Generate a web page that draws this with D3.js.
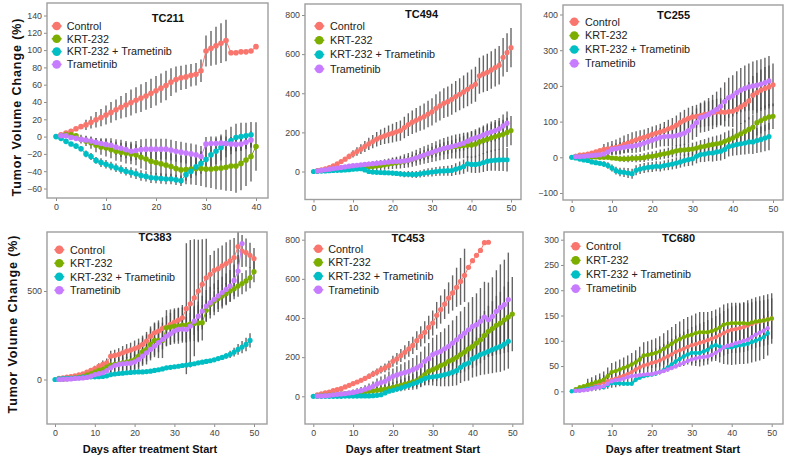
<!DOCTYPE html>
<html><head><meta charset="utf-8">
<script src="https://cdn.jsdelivr.net/npm/d3@7"></script>
<style>
body{margin:0;background:#fff}
svg{display:block}
text{font-family:"Liberation Sans",Arial,Helvetica,sans-serif}
</style>
</head><body>
<svg id="chart" width="788" height="460"></svg>
<script>
// ---------- series ----------
const seriesNames = ["Control", "KRT-232", "KRT-232 + Trametinib", "Trametinib"];
const seriesColors = ["#F8766D", "#7CAE00", "#00BFC4", "#C77CFF"];

// ---------- TC211 (value per day, index = day) ----------
const tc211Control = [null,2,4,6,9,11.5,13.5,16.5,19.5,22,25,28,31,34,36.5,39.5,42,44.5,47,50,53,56,59,63,66,68,69,71,72,76,99,102,105,108,111,97,97,98,98,99,104];
const tc211Krt = [null,1,2,2,1,-3,-5,-7,-10,-12,-13,-15,-17,-18,-19,-20,-21,-24,-26,-28.5,-30,-31.5,-33,-34.5,-37,-38.5,-38,-37.5,-37,-37,-37.5,-37.5,-37,-36.5,-35.5,-34,-34,-31,-27,-23,-11.5];
const tc211Combo = [0,-2,-5.5,-8.5,-11,-14,-20,-23,-27.5,-30,-32,-34,-36,-38,-40,-41.5,-43,-45,-46,-47.5,-48,-48.5,-49,-49,-50,-51,-44,-40,-35,-31,-26.5,-21,-17,-12.5,-8,-4.5,-1,0,1,2];
const tc211Tram = [null,1,1,-1,-2,-3,-4,-5,-6.5,-8,-9,-10,-12,-13.5,-15,-17,-16,-15,-14.5,-14.5,-14.5,-14.5,-14.5,-15.5,-17,-18,-19,-20,-21,-23,-8.5,-8,-8,-7.5,-8,-8.5,-9,-8.5,-6.5,-4];
const tc211ControlErr = [0,0,0,0,0,0,6,7,9,10,11,12,12,13,14,15,15,16,16,17,17,17,17,16,15,14,14,13,13,13,18,20,22,23,24,0,0,0,0,0,0];
const tc211KrtErr = [0,0,0,0,0,5,6,7,8,9,10,10,11,11,12,12,12,13,13,14,14,14,15,15,16,16,17,18,19,20,21,22,24,25,27,29,31,31,30,29,28];
const tc211ComboErr = [0,0,0,0,3,3,4,4,4,5,5,5,5,5,5,6,6,6,6,6,6,6,6,6,6,6,7,8,10,12,14,14,15,15,16,16,16,16,15,15];
const tc211TramErr = [0,0,0,0,0,3,4,4,5,6,7,8,9,10,10,11,11,12,12,12,12,12,12,12,12,12,12,12,12,12,8,8,8,8,8,8,8,8,8,8];

// ---------- TC494 ----------
const tc494Control = [null,5,8,14,20,29,39,51,63,77,90,102,114,128,141,153,165,175,182,190,196,203,209,225,240,252,262,272,281,294,305,323,335,349,357,369,383,395,407,420,434,446,489,499,507,519,531,543,584,608,633];
const tc494Krt = [null,2,5,6,7,8,10,11,13,15,17,18,20,22,24,25,28,31,34,38,42,45,48,53,58,63,70,77,84,90,97,104,111,116,121,125,128,130,133,135,136,140,151,158,165,172,179,185,190,200,209];
const tc494Combo = [0,1,2,3,4,5,6,7,8,9,12,13,14,8,0,-3,-4,-5,-6,-7,-8,-10,-12,-14,-14,-15,-15,-12,-8,-5,-3,0,2,3,4,5,12,18,25,39,36,36,39,46,53,56,58,59,60,60];
const tc494Tram = [null,3,6,9,12,15,18,21,24,27,30,32,34,36,38,40,42,44,46,48,50,51,52,54,58,63,70,77,84,91,98,105,112,118,123,127,133,139,145,155,165,172,179,187,196,203,209,218,233,247];
const tc494ControlErr = [0,0,0,0,0,0,0,0,10,14,18,22,25,28,31,34,37,40,42,45,48,50,52,55,58,60,62,64,66,68,70,72,74,76,77,79,80,82,84,86,88,90,92,94,95,96,97,98,98,99,100];
const tc494KrtErr = [0,0,0,0,0,0,0,0,0,0,0,0,0,15,17,19,21,23,25,27,29,31,33,35,37,39,41,43,45,47,49,51,53,55,57,59,61,63,65,66,67,68,69,70,71,72,73,74,74,75,75];
const tc494ComboErr = [0,0,0,0,0,0,0,0,0,0,0,0,0,0,0,0,0,0,0,0,12,13,14,15,16,17,18,19,20,21,22,23,24,25,26,28,30,33,36,40,42,44,46,48,50,52,54,56,58,60];
const tc494TramErr = [0,0,0,0,0,0,0,0,0,0,8,9,10,11,12,13,14,15,16,17,18,19,20,21,22,23,24,25,26,27,28,29,30,31,32,33,34,36,38,40,42,44,46,48,50,52,54,56,58,60];

// ---------- TC255 ----------
const tc255Control = [null,3,6,7,9,12,15,19,22,24,26,28,31,36,40,45,49,53,56,60,64,68,71,75,80,84,90,98,104,109,113,115,117,120,122,125,127,127,126,128,129,134,141,148,158,174,181,188,193,197,203];
const tc255Krt = [null,3,2,3,2,1,1,0,0,0,-2,-3,-4,-4,-4,-3,-3,-2,-1,2,3,5,7.5,10,12,15,18,20,21,22,23,26,29,31,34,36,38,40,45,49,54,60,66,72,78,84,97,103,109,113,115];
const tc255Combo = [0,-2,-5,-7.5,-9,-13,-15,-17,-19,-23,-30,-37.5,-41,-42,-44,-46,-36.5,-33,-30,-28,-27,-25,-26,-23,-21,-19,-16,-13,-9,-6.5,-4,3,7.5,9,12,12,15,17,22,30,33,36,38,40,43,43,47,50,54,58];
const tc255Tram = [null,2,2,3,4,5,6,7,9,15,22,24,26,28,30,31,33,36,40,44,48,52,56,58,59,59,61,64,68,75,87,97,111,115,120,127,134,143,156,167,172,181,188,193,197,200,202,205,209,214];
const tc255ControlErr = [0,0,0,0,0,0,0,0,15,18,20,22,24,25,25,25,24,23,22,22,22,22,23,24,25,26,27,28,29,30,31,32,33,34,35,36,37,38,40,42,44,46,48,50,52,54,56,58,60,60,60];
const tc255KrtErr = [0,0,0,0,0,0,0,0,0,0,0,0,8,9,10,10,11,11,12,12,13,13,14,14,15,15,16,16,17,17,18,18,19,20,21,22,23,24,25,26,27,28,30,32,34,35,36,36,36,36,36];
const tc255ComboErr = [0,0,0,0,0,0,0,0,8,9,10,11,12,13,14,14,14,14,14,14,14,14,14,14,15,15,16,16,17,18,19,20,21,22,23,24,25,26,27,28,29,30,31,32,33,34,35,36,37,38];
const tc255TramErr = [0,0,0,0,0,0,0,0,10,12,14,15,16,17,18,19,20,21,22,23,24,25,26,27,28,29,30,32,34,36,38,40,42,44,46,48,50,52,54,56,58,60,62,64,66,68,70,70,70,70];

// ---------- TC383 ----------
const tc383Control = [null,6,9,13,17,21,26,32,42,51,62,74,85,94,132,136,142,151,160,166,175,183,198,217,245,264,274,289,296,311,325,336,349,400,428,462,500,538,575,594,617,626,642,655,670,689,751,726,717,702,683];
const tc383Krt = [null,0,2,4,6,9,12,15,25,32,42,51,58,70,81,85,89,94,98,104,113,132,157,170,198,221,221,221,292,296,302,302,308,308,315,317,319,321,391,425,443,458,472,485,500,513,528,542,557,575,609];
const tc383Combo = [0,3,5,6,7,8,10,13,14,15,15,16,17,21,28,31,34,36,38,40,42,43,43,45,47,51,55,60,66,69,72,75,79,82,85,89,94,98,102,106,111,118,125,133,142,155,170,183,198,221];
const tc383Tram = [null,0,1,2,3,6,7,9,12,19,28,33,38,50,66,79,85,89,91,92,100,113,132,151,170,189,208,226,245,258,274,283,285,283,302,330,358,387,415,434,453,472,491,509,528,560,613,768];
const tc383ControlErr = [0,0,0,0,0,0,0,0,0,0,15,18,22,25,30,32,35,38,40,42,45,48,50,52,55,58,60,62,64,66,68,70,72,370,360,330,290,255,220,110,110,115,115,120,120,110,100,90,80,70,60];
const tc383KrtErr = [0,0,0,0,0,0,0,0,0,0,0,0,0,0,40,45,50,55,60,65,70,75,80,85,90,95,100,100,100,100,100,100,100,100,100,100,100,100,60,60,60,60,60,60,60,60,60,60,60,60,60];
const tc383ComboErr = [0,0,0,0,0,0,0,0,0,0,0,0,0,0,0,0,0,0,0,0,0,0,0,0,0,0,0,0,0,0,0,0,0,0,0,0,0,0,0,0,10,12,14,16,20,25,30,35,38,40];
const tc383TramErr = [0,0,0,0,0,0,0,0,0,0,0,0,0,0,30,32,34,36,38,40,42,44,46,48,50,52,54,56,58,60,62,64,66,70,74,78,82,86,90,90,90,90,90,90,90,90,90,0];

// ---------- TC453 ----------
const tc453Control = [null,8,12,17,22,29,34,39,48,56,65,73,82,92,102,114,124,136,145,157,179,191,208,225,242,260,284,306,327,352,374,414,443,471,502,528,557,587,618,659,693,720,745,785,787];
const tc453Krt = [null,1,3,5,6,8,10,12,14,15,17,18,20,23,26,28,31,34,37,41,46,51,56,62,68,74,80,94,111,128,136,145,157,165,179,187,199,213,226,242,255,272,289,311,332,346,363,374,391,405,420];
const tc453Combo = [0,0,0,0,0,0,0,0,1,1,1,1,2,2,2,3,5,8,17,26,31,37,43,50,56,64,71,80,90,97,100,102,106,111,116,123,131,148,162,170,191,201,213,221,230,238,247,255,267,281];
const tc453Tram = [null,1,2,3,5,8,10,12,14,17,20,24,29,36,43,51,63,70,77,90,102,109,116,122,128,136,145,157,179,192,213,222,230,243,255,272,289,306,323,340,357,366,383,405,391,408,434,454,468,494];
const tc453ControlErr = [0,0,0,0,0,0,0,0,0,0,0,0,10,12,14,16,18,20,22,25,28,30,33,36,40,44,48,52,56,60,64,68,72,76,80,90,100,120,136,0,0,0,0,0,0];
const tc453KrtErr = [0,0,0,0,0,0,0,0,0,0,0,0,10,12,14,16,18,20,22,24,26,28,30,33,36,40,44,48,52,56,60,65,70,75,80,85,90,95,100,105,110,115,120,125,130,140,150,160,170,180,190];
const tc453ComboErr = [0,0,0,0,0,0,0,0,0,0,0,0,0,0,0,0,0,0,0,0,0,0,0,0,0,20,25,30,35,40,45,50,55,60,65,70,75,80,85,90,95,100,105,110,115,120,125,130,135,140];
const tc453TramErr = [0,0,0,0,0,0,0,0,0,0,15,17,19,21,23,25,28,31,34,37,40,44,48,52,56,60,65,70,75,80,86,92,98,104,110,116,122,128,134,140,150,160,170,180,190,200,210,220,230,240];

// ---------- TC680 ----------
const tc680Control = [null,3,5,7,9,11,13,15,18,20,23,25,28,31,34,38,43,47,51,53,56,58,61,65,69,73,78,81,84,88,91,93,96,98,101,104,107,111,115,119,122,123,125,127,130,133,136,138,140,142,144];
const tc680Krt = [null,4,8,10,13,15,18,20,23,30,38,40,43,46,49,53,57,63,71,72,74,76,79,84,89,94,99,103,107,110,112,115,117,117,117,119,122,126,132,134,135,135,135,135,134,136,138,139,140,142,144];
const tc680Combo = [0,1,2,3,5,6,8,8,8,12,16,16,16,15,15,15,23,27,30,32,33,35,38,42,47,53,59,64,69,73,76,76,76,79,82,89,91,89,87,87,87,89,91,92,94,97,100,103,107,115];
const tc680Tram = [null,1,1,2,3,5,7,8,10,15,20,22,23,25,28,30,31,32,33,34,34,36,38,40,43,46,49,53,56,60,63,65,67,68,69,72,76,81,87,90,92,95,97,100,102,107,112,116,120,125];
const tc680ControlErr = [0,0,0,0,10,11,12,13,14,15,16,17,18,19,20,21,22,23,24,25,26,27,28,29,30,31,32,33,34,35,36,37,38,39,40,41,42,43,44,45,46,47,48,49,50,50,50,50,50,50,50];
const tc680KrtErr = [0,0,0,0,12,13,14,15,16,17,18,19,20,21,22,23,24,25,26,27,28,29,30,31,32,33,34,35,36,37,38,39,40,40,40,40,40,40,40,40,40,40,40,40,40,40,40,40,40,40,40];
const tc680ComboErr = [0,0,0,0,0,0,0,0,0,0,0,0,0,0,0,0,0,0,0,0,0,0,0,0,0,0,0,0,0,0,25,26,27,28,29,30,31,32,33,34,35,36,37,38,39,40,41,42,43,44];
const tc680TramErr = [];

// ---------- tick labels ----------
const yTicks211 = [-60,-40,-20,0,20,40,60,80,100,120,140];
const yTicks494 = [0,200,400,600,800];
const yTicks255 = [-100,0,100,200,300,400];
const yTicks383 = [0,500];
const yTicks453 = [0,200,400,600,800];
const yTicks680 = [0,50,100,150,200,250,300];
const xTicks40 = [0,10,20,30,40];
const xTicks50 = [0,10,20,30,40,50];

// ---------- layout ----------
const panels = [
  {id:"p211", title:"TC211", vals:[tc211Control,tc211Krt,tc211Combo,tc211Tram], errs:[tc211ControlErr,tc211KrtErr,tc211ComboErr,tc211TramErr],
   yTicks:yTicks211, xTicks:xTicks40, box:[47,268,3,198], yd:[-60,140], yr:[188.5,15.5], xd:[0,40], xr:[56,256],
   titlePos:[168,21.5], leg:[56.7,26,12.8,66.7], r:2.8, lw:1},
  {id:"p494", title:"TC494", vals:[tc494Control,tc494Krt,tc494Combo,tc494Tram], errs:[tc494ControlErr,tc494KrtErr,tc494ComboErr,tc494TramErr],
   yTicks:yTicks494, xTicks:xTicks50, box:[305,521,4,199.5], yd:[0,800], yr:[171.5,15], xd:[0,50], xr:[313.5,511],
   titlePos:[421.5,17.5], leg:[319.3,26,14.3,330], r:2.6, lw:1},
  {id:"p255", title:"TC255", vals:[tc255Control,tc255Krt,tc255Combo,tc255Tram], errs:[tc255ControlErr,tc255KrtErr,tc255ComboErr,tc255TramErr],
   yTicks:yTicks255, xTicks:xTicks50, box:[563,783,5,200], yd:[-100,400], yr:[193,14.5], xd:[0,50], xr:[571.7,773],
   titlePos:[673.5,19.3], leg:[574.3,21.7,13.9,585], r:2.6, lw:1},
  {id:"p383", title:"TC383", vals:[tc383Control,tc383Krt,tc383Combo,tc383Tram], errs:[tc383ControlErr,tc383KrtErr,tc383ComboErr,tc383TramErr],
   yTicks:yTicks383, xTicks:xTicks50, box:[47,267,232,424], yd:[0,500], yr:[379.5,291], xd:[0,50], xr:[55,254],
   titlePos:[155,241.3], leg:[59.3,249.7,13.5,70], r:2.6, lw:1},
  {id:"p453", title:"TC453", vals:[tc453Control,tc453Krt,tc453Combo,tc453Tram], errs:[tc453ControlErr,tc453KrtErr,tc453ComboErr,tc453TramErr],
   yTicks:yTicks453, xTicks:xTicks50, box:[305,523,232,424], yd:[0,800], yr:[396.3,239.7], xd:[0,50], xr:[313.3,512.3],
   titlePos:[408,242], leg:[318.3,248.7,13.7,328.3], r:2.6, lw:1},
  {id:"p680", title:"TC680", vals:[tc680Control,tc680Krt,tc680Combo,tc680Tram], errs:[tc680ControlErr,tc680KrtErr,tc680ComboErr,tc680TramErr],
   yTicks:yTicks680, xTicks:xTicks50, box:[564,783,232,424], yd:[0,300], yr:[391.3,239.7], xd:[0,50], xr:[571.7,771.7],
   titlePos:[678.5,242], leg:[575.7,246.3,14.1,586], r:2.2, lw:2.2}
];

const svg = d3.select("#chart");
svg.append("rect").attr("width",788).attr("height",460).attr("fill","#fff");
const defs = svg.append("defs");

panels.forEach(p => {
  const [L,R,T,B] = p.box;
  const x = d3.scaleLinear().domain(p.xd).range(p.xr);
  const y = d3.scaleLinear().domain(p.yd).range(p.yr);
  const g = svg.append("g");

  defs.append("clipPath").attr("id","clip-"+p.id)
    .append("rect").attr("x",L).attr("y",T).attr("width",R-L).attr("height",B-T);

  // axes
  const ya = g.append("g").attr("transform",`translate(${L},0)`)
    .call(d3.axisLeft(y).tickValues(p.yTicks).tickFormat(d3.format("d")).tickSize(3).tickPadding(2));
  const xa = g.append("g").attr("transform",`translate(0,${B})`)
    .call(d3.axisBottom(x).tickValues(p.xTicks).tickFormat(d3.format("d")).tickSize(3).tickPadding(2.5));
  [ya,xa].forEach(a => {
    a.select(".domain").remove();
    a.selectAll(".tick line").attr("stroke","#8c8c8c").attr("stroke-width",1);
    a.selectAll(".tick text").attr("fill","#444").style("font-size","8.8px");
  });

  const plot = g.append("g").attr("clip-path",`url(#clip-${p.id})`);

  // error bars
  p.vals.forEach((vals,s) => {
    const errs = p.errs[s];
    vals.forEach((v,i) => {
      const e = errs[i];
      if (v == null || !e) return;
      plot.append("line")
        .attr("x1",x(i)).attr("x2",x(i))
        .attr("y1",y(v-e)).attr("y2",y(v+e))
        .attr("stroke","#4a4a4a").attr("stroke-opacity",0.85).attr("stroke-width",1.4);
    });
  });

  // lines and points
  p.vals.forEach((vals,s) => {
    const pts = vals.map((v,i)=>({d:i,v:v})).filter(q=>q.v!=null);
    plot.append("path").datum(pts)
      .attr("fill","none").attr("stroke",seriesColors[s]).attr("stroke-width",p.lw)
      .attr("d", d3.line().x(q=>x(q.d)).y(q=>y(q.v)));
    plot.selectAll(null).data(pts).enter().append("circle")
      .attr("cx",q=>x(q.d)).attr("cy",q=>y(q.v)).attr("r",p.r)
      .attr("fill",seriesColors[s]);
  });

  // border
  g.append("rect").attr("x",L).attr("y",T).attr("width",R-L).attr("height",B-T)
    .attr("fill","none").attr("stroke","#9e9e9e").attr("stroke-width",1.4);

  // title
  g.append("text").attr("x",p.titlePos[0]).attr("y",p.titlePos[1])
    .attr("text-anchor","middle").style("font-size","11px").style("font-weight","bold")
    .attr("fill","#111").text(p.title);

  // legend
  const [lx,ly,ls,tx] = p.leg;
  seriesNames.forEach((nm,s) => {
    const cy = ly + s*ls;
    g.append("line").attr("x1",lx-5).attr("x2",lx+5).attr("y1",cy).attr("y2",cy)
      .attr("stroke",seriesColors[s]).attr("stroke-width",1.5);
    g.append("circle").attr("cx",lx).attr("cy",cy).attr("r",4.3).attr("fill",seriesColors[s]);
    g.append("text").attr("x",tx).attr("y",cy+3.8).style("font-size","10.8px")
      .attr("fill","#222").text(nm);
  });
});

// axis titles
[[20.5,107.5],[17,324.5]].forEach(([cx,cy]) => {
  svg.append("text").attr("transform",`translate(${cx},${cy}) rotate(-90)`)
    .attr("text-anchor","middle").style("font-size","12.5px").style("font-weight","bold")
    .attr("fill","#111").attr("textLength",178).attr("lengthAdjust","spacing")
    .text("Tumor Volume Change (%)");
});
[150,413,673].forEach(cx => {
  svg.append("text").attr("x",cx).attr("y",453)
    .attr("text-anchor","middle").style("font-size","11px").style("font-weight","bold")
    .attr("fill","#111").text("Days after treatment Start");
});
</script>
</body></html>
